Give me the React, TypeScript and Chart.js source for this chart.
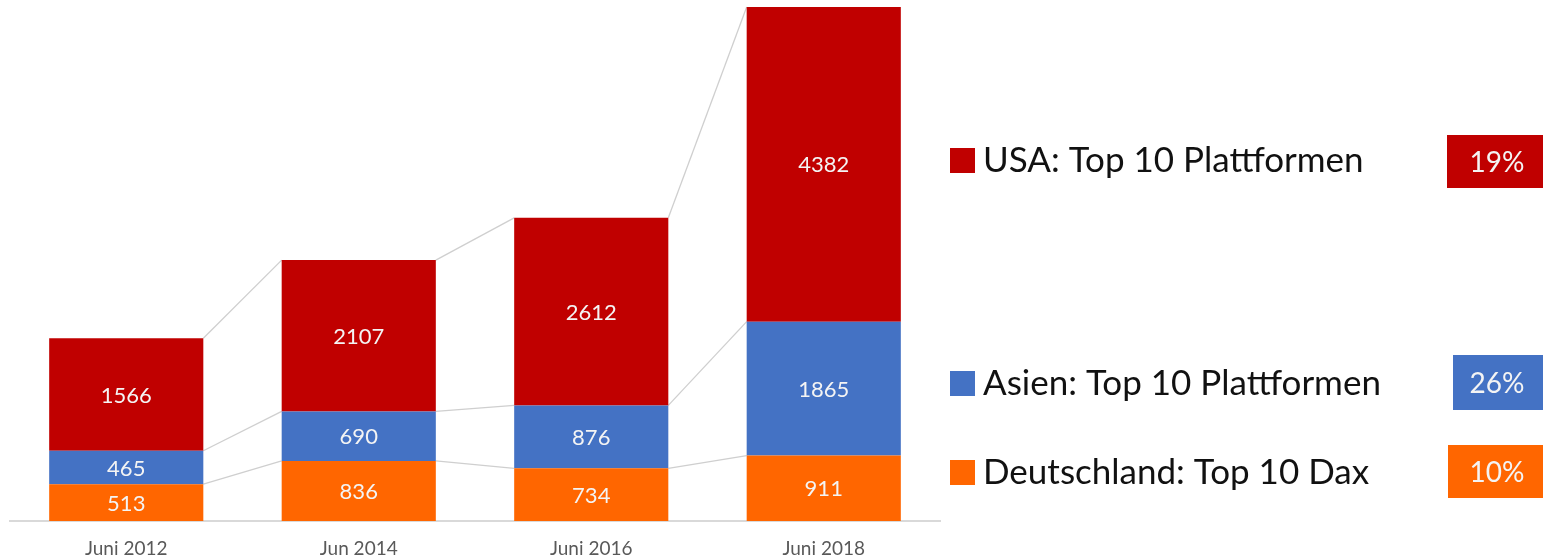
import React, { useEffect, useRef } from "react";
import { Chart, registerables } from "chart.js";

Chart.register(...registerables);

const categories = ["Juni 2012", "Jun 2014", "Juni 2016", "Juni 2018"];
const deutschland = [513, 836, 734, 911];
const asien = [465, 690, 876, 1865];
const usa = [1566, 2107, 2612, 4382];
const legendLabels = ["USA: Top 10 Plattformen", "Asien: Top 10 Plattformen", "Deutschland: Top 10 Dax"];
const percentLabels = ["19%", "26%", "10%"];

const RED = "#C00000";
const BLUE = "#4472C4";
const ORANGE = "#FF6600";
const FONT = "Lato, 'Open Sans', sans-serif";

const connectorPlugin = {
  id: "connectors",
  beforeDatasetsDraw(chart: any) {
    const ctx = chart.ctx;
    ctx.save();
    ctx.strokeStyle = "#CFCFCF";
    ctx.lineWidth = 1.3;
    chart.data.datasets.forEach((_: any, i: number) => {
      const meta = chart.getDatasetMeta(i);
      const els = meta.data;
      for (let j = 0; j < els.length - 1; j++) {
        const a = els[j];
        const b = els[j + 1];
        ctx.beginPath();
        ctx.moveTo(a.x + a.width / 2, a.y);
        ctx.lineTo(b.x - b.width / 2, b.y);
        ctx.stroke();
      }
    });
    ctx.restore();
  },
};

const labelPlugin = {
  id: "segLabels",
  afterDatasetsDraw(chart: any) {
    const ctx = chart.ctx;
    ctx.save();
    ctx.fillStyle = "#F4F4F4";
    ctx.font = `22px ${FONT}`;
    ctx.textAlign = "center";
    ctx.textBaseline = "middle";
    chart.data.datasets.forEach((ds: any, i: number) => {
      const meta = chart.getDatasetMeta(i);
      meta.data.forEach((el: any, j: number) => {
        const cy = (el.y + el.base) / 2;
        ctx.fillText(String(ds.data[j]), el.x, cy + 1);
      });
    });
    ctx.restore();
  },
};

const legendPlugin = {
  id: "sideLegend",
  afterDraw(chart: any) {
    const ctx = chart.ctx;
    ctx.save();
    const colors = [RED, BLUE, ORANGE];
    const rowsY = [160, 383, 472];
    const boxX = [1447, 1453, 1448];
    const boxTop = [135, 355, 445];
    const boxH = [53, 55, 53];
    legendLabels.forEach((lab, i) => {
      const y = rowsY[i];
      ctx.fillStyle = colors[i];
      ctx.fillRect(950, y - 12, 25, 25);
      ctx.fillStyle = "#111111";
      ctx.font = `35px ${FONT}`;
      ctx.textAlign = "left";
      ctx.textBaseline = "middle";
      ctx.fillText(lab, 983, y + 1);
      ctx.fillStyle = colors[i];
      ctx.fillRect(boxX[i], boxTop[i], 1543 - boxX[i], boxH[i]);
      ctx.fillStyle = "#F4F4F4";
      ctx.font = `28px ${FONT}`;
      ctx.textAlign = "center";
      ctx.fillText(percentLabels[i], 1497, boxTop[i] + boxH[i] / 2 + 1);
    });
    ctx.restore();
  },
};

export default function App() {
  const ref = useRef<HTMLCanvasElement>(null);
  useEffect(() => {
    document.body.style.margin = "0";
    const chart = new Chart(ref.current!, {
      type: "bar",
      data: {
        labels: categories,
        datasets: [
          { label: "Deutschland: Top 10 Dax", data: deutschland, backgroundColor: ORANGE },
          { label: "Asien: Top 10 Plattformen", data: asien, backgroundColor: BLUE },
          { label: "USA: Top 10 Plattformen", data: usa, backgroundColor: RED },
        ],
      },
      options: {
        responsive: false,
        animation: false,
        layout: { padding: { left: 10, right: 603, top: 7, bottom: 0 } },
        plugins: { legend: { display: false }, tooltip: { enabled: false } },
        datasets: { bar: { categoryPercentage: 1, barPercentage: 0.663 } },
        scales: {
          x: {
            stacked: true,
            grid: { display: false, drawTicks: false },
            border: { display: true, color: "#D9D9D9", width: 2 },
            ticks: { color: "#595959", font: { family: FONT, size: 19 }, padding: 16 },
            afterFit(scale: any) {
              scale.height = 39;
            },
          },
          y: { stacked: true, display: false, min: 0, max: 7158 },
        },
      },
      plugins: [connectorPlugin, labelPlugin, legendPlugin],
    });
    return () => chart.destroy();
  }, []);
  return (
    <div style={{ width: 1543, height: 560 }}>
      <canvas ref={ref} width={1543} height={560} />
    </div>
  );
}
